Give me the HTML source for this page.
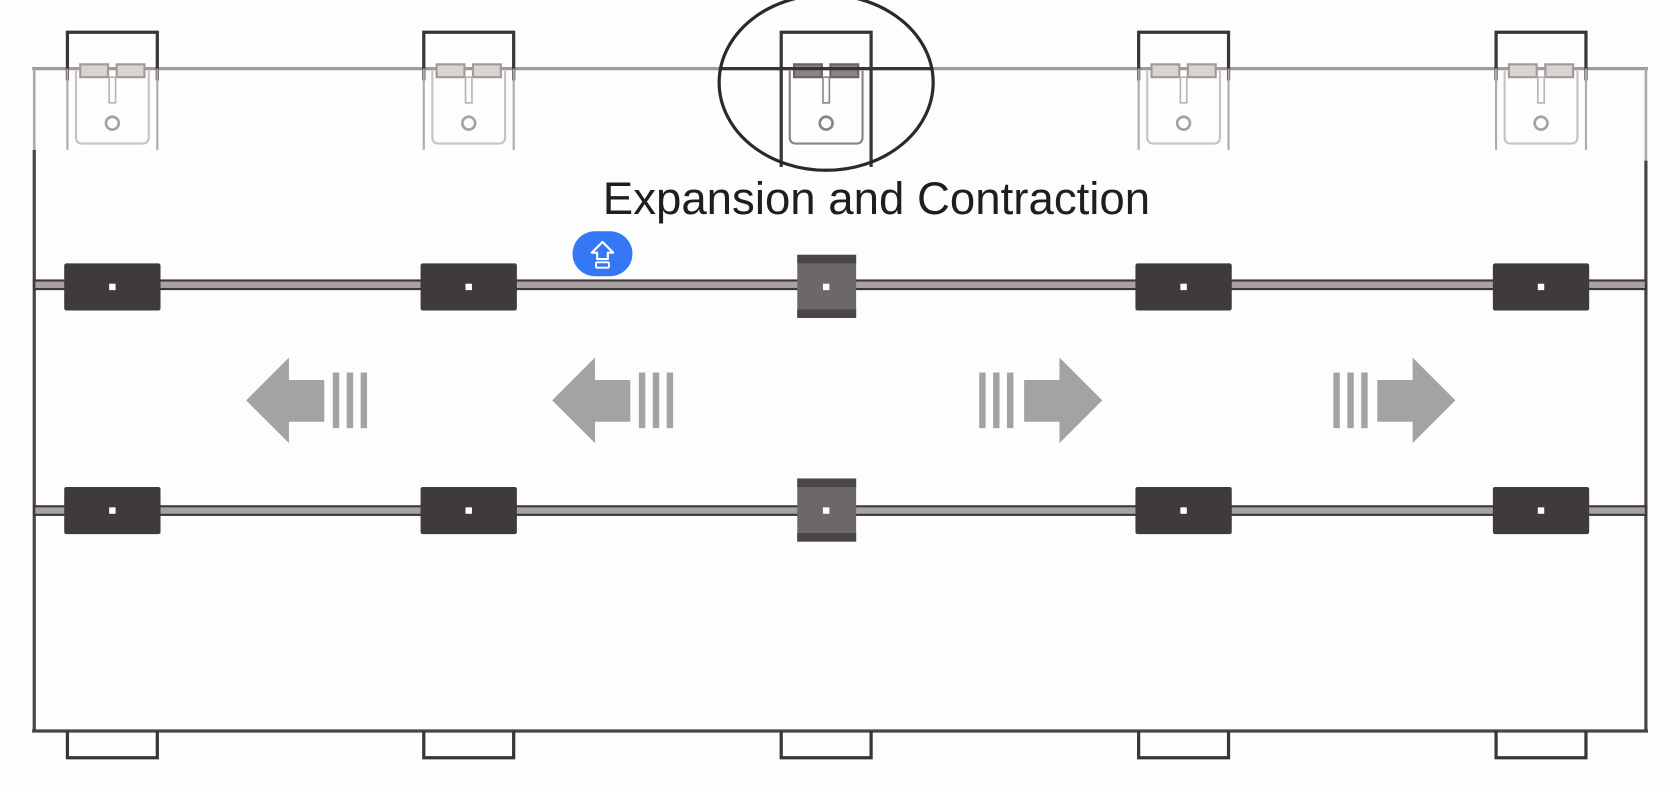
<!DOCTYPE html>
<html><head><meta charset="utf-8"><style>
html,body{margin:0;padding:0;background:#fff;}
svg{display:block;}
</style></head><body>
<svg width="1678" height="790" viewBox="0 0 1568 738" xmlns="http://www.w3.org/2000/svg">
<rect width="1568" height="738" fill="#fdfdfe"/>
<line x1="30" y1="64" x2="1540" y2="64" stroke="#a09a98" stroke-width="3"/>
<line x1="32" y1="64" x2="32" y2="140" stroke="#b0aaa8" stroke-width="2.5"/>
<line x1="32" y1="140" x2="32" y2="684" stroke="#4a4444" stroke-width="3"/>
<line x1="1538" y1="64" x2="1538" y2="150" stroke="#b0aaa8" stroke-width="2.5"/>
<line x1="1538" y1="150" x2="1538" y2="684" stroke="#4a4444" stroke-width="3"/>
<line x1="30" y1="683" x2="1540" y2="683" stroke="#4a4444" stroke-width="3"/>
<g>
<rect x="32" y="262" width="1506" height="8" fill="#a8a2a0" stroke="#3e3838" stroke-width="2"/>
<rect x="32" y="473" width="1506" height="8" fill="#a8a2a0" stroke="#3e3838" stroke-width="2"/>
</g>
<g fill="none">
<g transform="translate(105,0)">
<path d="M-42 75 V30 H42 V75" stroke="#3a3434" stroke-width="3"/>
<path d="M-42 64 V140 M42 64 V140" stroke="#b0aaa8" stroke-width="2"/>
<path d="M-34 66 V128 Q-34 134 -28 134 H28 Q34 134 34 128 V66" stroke="#c8c2c0" stroke-width="2"/>
<rect x="-30" y="60" width="26" height="12" stroke="#a09a98" stroke-width="2" fill="#d8d4d2"/>
<rect x="4" y="60" width="26" height="12" stroke="#a09a98" stroke-width="2" fill="#d8d4d2"/>
<rect x="-3" y="72" width="6" height="24" stroke="#b8b2b0" stroke-width="1.5"/>
<circle cx="0" cy="115" r="6" stroke="#a8a2a0" stroke-width="2.5"/>
<rect x="-45" y="246" width="90" height="44" rx="2" fill="#3f3b3b"/>
<rect x="-3" y="265" width="6" height="6" fill="#fff"/>
<rect x="-45" y="455" width="90" height="44" rx="2" fill="#3f3b3b"/>
<rect x="-3" y="474" width="6" height="6" fill="#fff"/>
<path d="M-42 683 V708 H42 V683" stroke="#3a3434" stroke-width="3"/>
</g>
<g transform="translate(438,0)">
<path d="M-42 75 V30 H42 V75" stroke="#3a3434" stroke-width="3"/>
<path d="M-42 64 V140 M42 64 V140" stroke="#b0aaa8" stroke-width="2"/>
<path d="M-34 66 V128 Q-34 134 -28 134 H28 Q34 134 34 128 V66" stroke="#c8c2c0" stroke-width="2"/>
<rect x="-30" y="60" width="26" height="12" stroke="#a09a98" stroke-width="2" fill="#d8d4d2"/>
<rect x="4" y="60" width="26" height="12" stroke="#a09a98" stroke-width="2" fill="#d8d4d2"/>
<rect x="-3" y="72" width="6" height="24" stroke="#b8b2b0" stroke-width="1.5"/>
<circle cx="0" cy="115" r="6" stroke="#a8a2a0" stroke-width="2.5"/>
<rect x="-45" y="246" width="90" height="44" rx="2" fill="#3f3b3b"/>
<rect x="-3" y="265" width="6" height="6" fill="#fff"/>
<rect x="-45" y="455" width="90" height="44" rx="2" fill="#3f3b3b"/>
<rect x="-3" y="474" width="6" height="6" fill="#fff"/>
<path d="M-42 683 V708 H42 V683" stroke="#3a3434" stroke-width="3"/>
</g>
<g transform="translate(772,0)">
<path d="M-42 156 V30 H42 V156" stroke="#3a3434" stroke-width="3"/>
<path d="M-34 66 V128 Q-34 134 -28 134 H28 Q34 134 34 128 V66" stroke="#8a8484" stroke-width="2"/>
<rect x="-30" y="60" width="26" height="12" stroke="#6a6464" stroke-width="2" fill="#8a8484"/>
<rect x="4" y="60" width="26" height="12" stroke="#6a6464" stroke-width="2" fill="#8a8484"/>
<rect x="-3" y="72" width="6" height="24" stroke="#8a8484" stroke-width="1.5"/>
<circle cx="0" cy="115" r="6" stroke="#8a8484" stroke-width="2.5"/>
<line x1="-100" y1="64" x2="100" y2="64" stroke="#3a3434" stroke-width="3"/>
<ellipse cx="0" cy="77" rx="100" ry="82" stroke="#2e2828" stroke-width="3"/>
<rect x="-27" y="238" width="55" height="59" fill="#6c6868"/>
<rect x="-27" y="238" width="55" height="8" fill="#4a4646"/>
<rect x="-27" y="289" width="55" height="8" fill="#4a4646"/>
<rect x="-3" y="265" width="6" height="6" fill="#fff"/>
<rect x="-27" y="447" width="55" height="59" fill="#6c6868"/>
<rect x="-27" y="447" width="55" height="8" fill="#4a4646"/>
<rect x="-27" y="498" width="55" height="8" fill="#4a4646"/>
<rect x="-3" y="474" width="6" height="6" fill="#fff"/>
<path d="M-42 683 V708 H42 V683" stroke="#3a3434" stroke-width="3"/>
</g>
<g transform="translate(1106,0)">
<path d="M-42 75 V30 H42 V75" stroke="#3a3434" stroke-width="3"/>
<path d="M-42 64 V140 M42 64 V140" stroke="#b0aaa8" stroke-width="2"/>
<path d="M-34 66 V128 Q-34 134 -28 134 H28 Q34 134 34 128 V66" stroke="#c8c2c0" stroke-width="2"/>
<rect x="-30" y="60" width="26" height="12" stroke="#a09a98" stroke-width="2" fill="#d8d4d2"/>
<rect x="4" y="60" width="26" height="12" stroke="#a09a98" stroke-width="2" fill="#d8d4d2"/>
<rect x="-3" y="72" width="6" height="24" stroke="#b8b2b0" stroke-width="1.5"/>
<circle cx="0" cy="115" r="6" stroke="#a8a2a0" stroke-width="2.5"/>
<rect x="-45" y="246" width="90" height="44" rx="2" fill="#3f3b3b"/>
<rect x="-3" y="265" width="6" height="6" fill="#fff"/>
<rect x="-45" y="455" width="90" height="44" rx="2" fill="#3f3b3b"/>
<rect x="-3" y="474" width="6" height="6" fill="#fff"/>
<path d="M-42 683 V708 H42 V683" stroke="#3a3434" stroke-width="3"/>
</g>
<g transform="translate(1440,0)">
<path d="M-42 75 V30 H42 V75" stroke="#3a3434" stroke-width="3"/>
<path d="M-42 64 V140 M42 64 V140" stroke="#b0aaa8" stroke-width="2"/>
<path d="M-34 66 V128 Q-34 134 -28 134 H28 Q34 134 34 128 V66" stroke="#c8c2c0" stroke-width="2"/>
<rect x="-30" y="60" width="26" height="12" stroke="#a09a98" stroke-width="2" fill="#d8d4d2"/>
<rect x="4" y="60" width="26" height="12" stroke="#a09a98" stroke-width="2" fill="#d8d4d2"/>
<rect x="-3" y="72" width="6" height="24" stroke="#b8b2b0" stroke-width="1.5"/>
<circle cx="0" cy="115" r="6" stroke="#a8a2a0" stroke-width="2.5"/>
<rect x="-45" y="246" width="90" height="44" rx="2" fill="#3f3b3b"/>
<rect x="-3" y="265" width="6" height="6" fill="#fff"/>
<rect x="-45" y="455" width="90" height="44" rx="2" fill="#3f3b3b"/>
<rect x="-3" y="474" width="6" height="6" fill="#fff"/>
<path d="M-42 683 V708 H42 V683" stroke="#3a3434" stroke-width="3"/>
</g>
</g>
<g fill="#a3a3a3">
<path d="M230 374 L270 334 V355 H303 V394 H270 V414 Z"/>
<rect x="311" y="348" width="6" height="52"/><rect x="324" y="348" width="6" height="52"/><rect x="337" y="348" width="6" height="52"/>
<path d="M516 374 L556 334 V355 H589 V394 H556 V414 Z"/>
<rect x="597" y="348" width="6" height="52"/><rect x="610" y="348" width="6" height="52"/><rect x="623" y="348" width="6" height="52"/>
<path d="M1030 374 L990 334 V355 H957 V394 H990 V414 Z"/>
<rect x="915" y="348" width="6" height="52"/><rect x="928" y="348" width="6" height="52"/><rect x="941" y="348" width="6" height="52"/>
<path d="M1360 374 L1320 334 V355 H1287 V394 H1320 V414 Z"/>
<rect x="1246" y="348" width="6" height="52"/><rect x="1259" y="348" width="6" height="52"/><rect x="1272" y="348" width="6" height="52"/>
</g>
<text x="819" y="200" text-anchor="middle" font-family="Liberation Sans, sans-serif" font-size="42.6" fill="#1e1e1e">Expansion and Contraction</text>
<rect x="535" y="216" width="56" height="42" rx="21" fill="#3478f6"/>
<path d="M563 226 L553 236 H558 V242 H568 V236 H573 Z" fill="none" stroke="#fff" stroke-width="2" stroke-linejoin="round"/>
<rect x="557" y="245" width="12" height="5" rx="1" fill="none" stroke="#fff" stroke-width="1.8"/>
</svg>
</body></html>
